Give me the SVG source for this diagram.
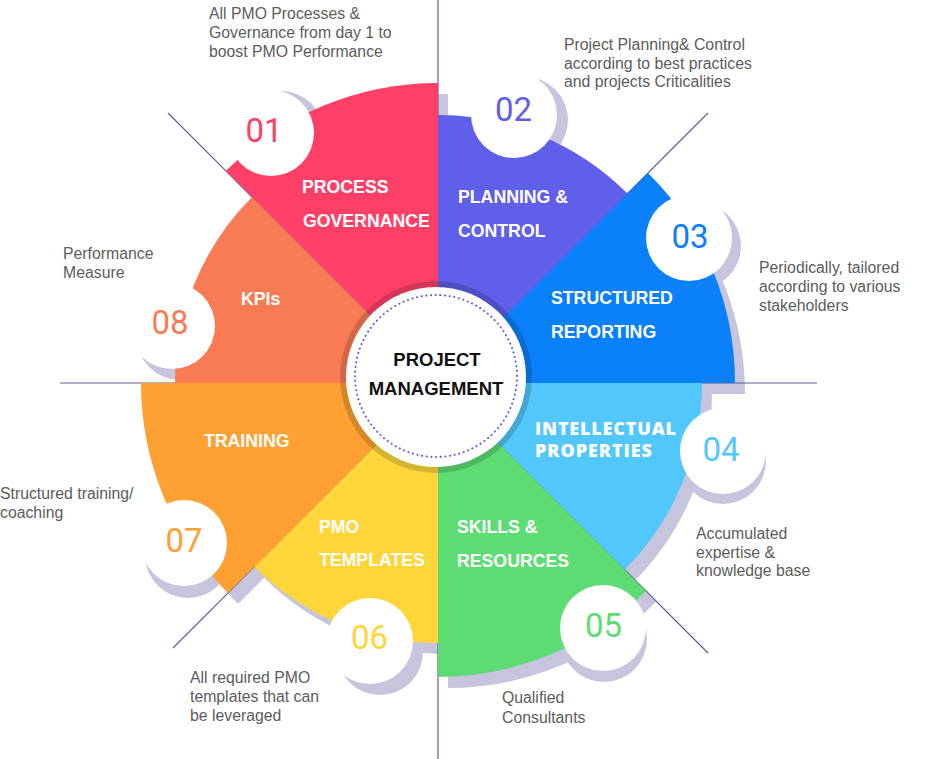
<svg xmlns="http://www.w3.org/2000/svg" width="949" height="759" viewBox="0 0 949 759">
<style>
.lbl{font-family:"Liberation Sans",Arial,Helvetica,sans-serif;font-weight:bold;font-size:17.7px;fill:#fff}
.lbl2{font-family:"Open Sans","Liberation Sans",sans-serif;font-weight:800;font-size:18px;fill:#fff}
.num{font-family:Roboto,"Liberation Sans",sans-serif;font-weight:400;font-size:33px;text-anchor:middle}
.desc{font-family:"Liberation Sans",Arial,Helvetica,sans-serif;font-size:15.8px;fill:#5c5c5c}
.sh{fill:#c6c5dd}
.ln{stroke:#5e5e93;stroke-width:1.2;fill:none}
.disc{fill:#fff}
.ctr{font-family:"Liberation Sans",Arial,Helvetica,sans-serif;font-weight:bold;font-size:18.5px;fill:#111;text-anchor:middle}
</style>
<defs>
<path id="s01" d="M438,383 L225.87,170.87 A300,300 0 0 1 438,83 Z"/>
<path id="s02" d="M438,383 L438,115 A268,268 0 0 1 627.5,193.5 Z"/>
<path id="s03" d="M438,383 L648.01,172.99 A297,297 0 0 1 735,383 Z"/>
<path id="s04" d="M438,383 L702,383 A264,264 0 0 1 624.68,569.68 Z"/>
<path id="s05" d="M438,383 L645.89,590.89 A294,294 0 0 1 438,677 Z"/>
<path id="s06" d="M438,383 L438,643 A260,260 0 0 1 254.15,566.85 Z"/>
<path id="s07" d="M438,383 L227.99,593.01 A297,297 0 0 1 141,383 Z"/>
<path id="s08" d="M438,383 L175,383 A263,263 0 0 1 252.03,197.03 Z"/>
</defs>
<rect width="949" height="759" fill="#fff"/>
<g id="shadows" class="sh">
<g transform="translate(10,11)">
<use href="#s01"/><use href="#s02"/><use href="#s03"/><use href="#s04"/>
<use href="#s05"/><use href="#s06"/><use href="#s07"/><use href="#s08"/>
</g>
<circle cx="281" cy="134" r="43"/>
<circle cx="525" cy="120" r="43"/>
<circle cx="698" cy="246" r="43"/>
<circle cx="723" cy="461" r="43"/>
<circle cx="604" cy="639" r="43"/>
<circle cx="380" cy="652" r="43"/>
<circle cx="188" cy="555" r="43"/>
<circle cx="180" cy="337" r="43"/>
</g>
<g id="spokes" class="ln">
<line x1="438" y1="0" x2="438" y2="759"/>
<line x1="60" y1="383" x2="817" y2="383"/>
<line x1="168" y1="113" x2="708" y2="653"/>
<line x1="708" y1="113" x2="173" y2="648"/>
</g>
<g id="node-01">
<use href="#s01" fill="#fe4067"/>
<circle class="disc" cx="271" cy="133" r="43"/>
<text class="num" x="264" y="142" fill="#fe4067">01</text>
<text class="lbl" x="302" y="193">PROCESS</text>
<text class="lbl" x="303" y="227">GOVERNANCE</text>
<text class="desc" x="209" y="19">All PMO Processes &amp;</text>
<text class="desc" x="209" y="38">Governance from day 1 to</text>
<text class="desc" x="209" y="57">boost PMO Performance</text>
</g>
<g id="node-02">
<use href="#s02" fill="#5f5fea"/>
<circle class="disc" cx="514" cy="115" r="43"/>
<text class="num" x="513.5" y="121" fill="#5f5fea">02</text>
<text class="lbl" x="458" y="203">PLANNING &amp;</text>
<text class="lbl" x="458" y="237">CONTROL</text>
<text class="desc" x="564" y="50">Project Planning&amp; Control</text>
<text class="desc" x="564" y="68.5">according to best practices</text>
<text class="desc" x="564" y="87">and projects Criticalities</text>
</g>
<g id="node-03">
<use href="#s03" fill="#0a80fb"/>
<circle class="disc" cx="689" cy="238" r="43"/>
<text class="num" x="690" y="248" fill="#0a80fb">03</text>
<text class="lbl" x="551" y="304">STRUCTURED</text>
<text class="lbl" x="551" y="338">REPORTING</text>
<text class="desc" x="759" y="273">Periodically, tailored</text>
<text class="desc" x="759" y="292">according to various</text>
<text class="desc" x="759" y="311">stakeholders</text>
</g>
<g id="node-04">
<use href="#s04" fill="#52c7fc"/>
<circle class="disc" cx="723" cy="451" r="43"/>
<text class="num" x="721" y="461" fill="#52c7fc">04</text>
<text class="lbl2" x="535" y="435" textLength="141" lengthAdjust="spacing">INTELLECTUAL</text>
<text class="lbl2" x="535" y="457" textLength="117" lengthAdjust="spacing">PROPERTIES</text>
<text class="desc" x="696" y="539">Accumulated</text>
<text class="desc" x="696" y="557.5">expertise &amp;</text>
<text class="desc" x="696" y="576">knowledge base</text>
</g>
<g id="node-05">
<use href="#s05" fill="#5edc74"/>
<circle class="disc" cx="603" cy="628" r="43"/>
<text class="num" x="603.5" y="637" fill="#5edc74">05</text>
<text class="lbl" x="457" y="533">SKILLS &amp;</text>
<text class="lbl" x="457" y="567">RESOURCES</text>
<text class="desc" x="502" y="703">Qualified</text>
<text class="desc" x="502" y="723">Consultants</text>
</g>
<g id="node-06">
<use href="#s06" fill="#ffd63a"/>
<circle class="disc" cx="370" cy="641" r="43"/>
<text class="num" x="369.5" y="649" fill="#ffd63a">06</text>
<text class="lbl" x="319" y="533">PMO</text>
<text class="lbl" x="319" y="566">TEMPLATES</text>
<text class="desc" x="190" y="683">All required PMO</text>
<text class="desc" x="190" y="702">templates that can</text>
<text class="desc" x="190" y="721">be leveraged</text>
</g>
<g id="node-07">
<use href="#s07" fill="#fea032"/>
<circle class="disc" cx="184" cy="543" r="43"/>
<text class="num" x="184" y="552" fill="#fea032">07</text>
<text class="lbl" x="204" y="447">TRAINING</text>
<text class="desc" x="0" y="499">Structured training/</text>
<text class="desc" x="0" y="518">coaching</text>
</g>
<g id="node-08">
<use href="#s08" fill="#f87b54"/>
<circle class="disc" cx="172" cy="326" r="43"/>
<text class="num" x="170" y="334" fill="#f87b54">08</text>
<text class="lbl" x="241" y="305">KPIs</text>
<text class="desc" x="63" y="259">Performance</text>
<text class="desc" x="63" y="278">Measure</text>
</g>
<g id="center">
<circle cx="436" cy="377" r="93" fill="none" stroke="#000" stroke-opacity="0.16" stroke-width="6"/>
<circle cx="436" cy="377" r="90" fill="#fff"/>
<circle cx="436" cy="376" r="81" fill="none" stroke="#5a5ae6" stroke-width="2" stroke-dasharray="0.1 4.6" stroke-linecap="round"/>
<text class="ctr" x="437" y="366">PROJECT</text>
<text class="ctr" x="436" y="395">MANAGEMENT</text>
</g>
</svg>
